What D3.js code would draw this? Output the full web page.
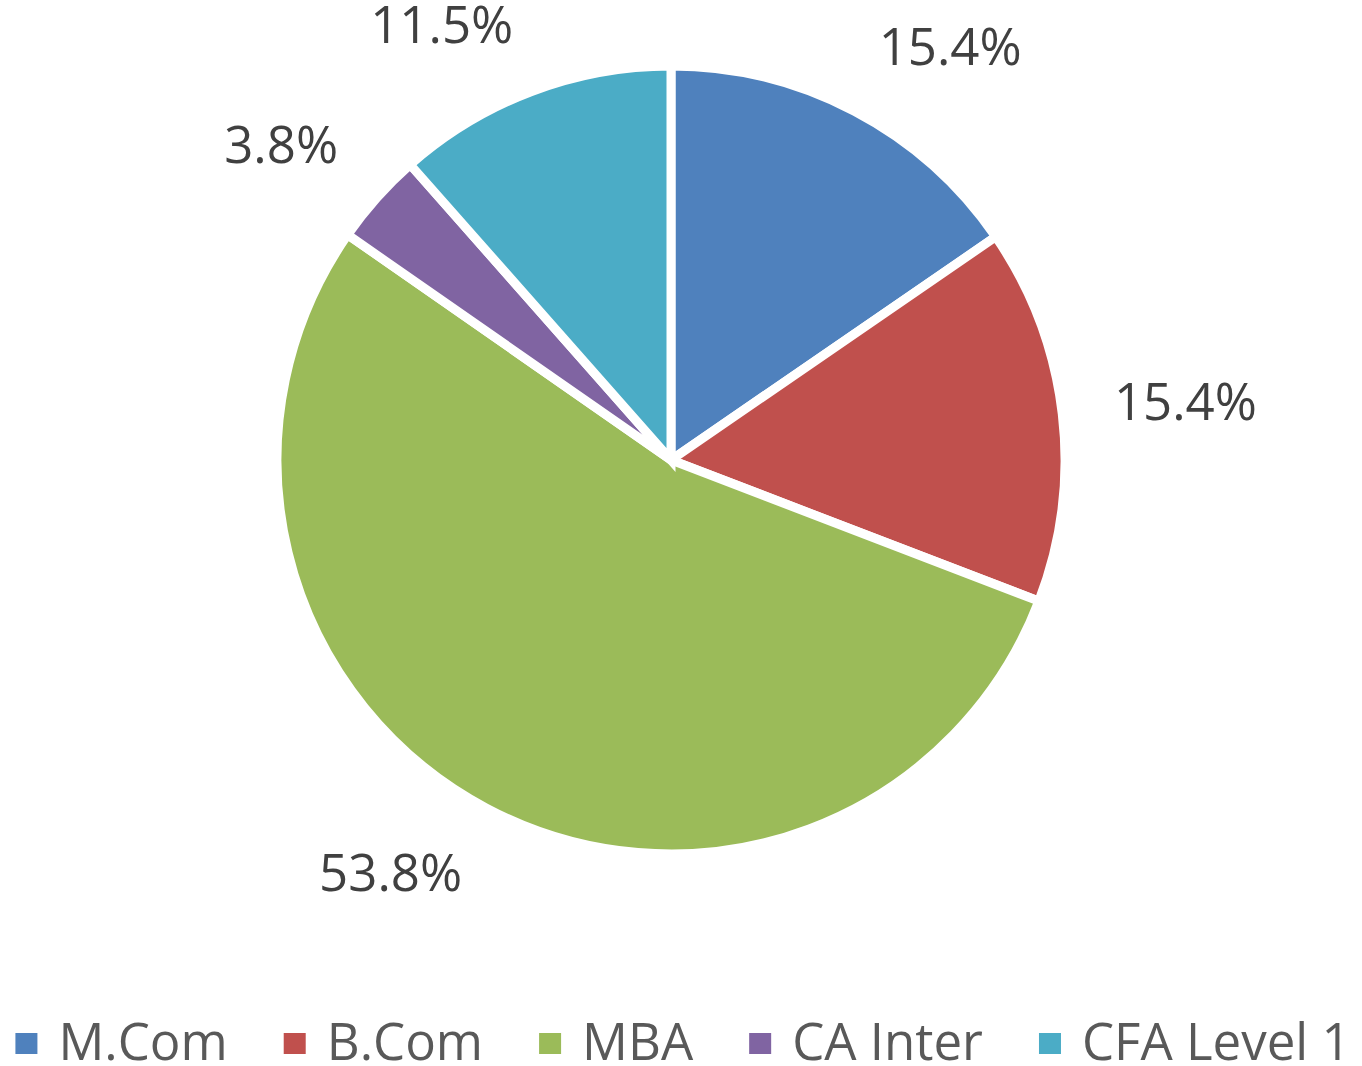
<!DOCTYPE html>
<html>
<head>
<meta charset="utf-8">
<script src="https://cdn.jsdelivr.net/npm/d3@7"></script>
<style>
  body { margin: 0; background: #fff; }
  text { font-family: "Open Sans", "Noto Sans", sans-serif; }
</style>
</head>
<body>
<div id="chart"></div>
<script>
// data
var categories = ["M.Com", "B.Com", "MBA", "CA Inter", "CFA Level 1"];
var shares = [15.4, 15.4, 53.8, 3.8, 11.5];
var shareLabels = ["15.4%", "15.4%", "53.8%", "3.8%", "11.5%"];
var colours = ["#4F81BD", "#C0504D", "#9BBB59", "#8064A2", "#4BACC6"];

var width = 1362, height = 1066;
var cx = 671, cy = 460, radius = 394;

var svg = d3.select("#chart")
  .append("svg")
  .attr("width", width)
  .attr("height", height);

var data = categories.map(function(c, i) {
  return {name: c, value: shares[i], label: shareLabels[i], colour: colours[i]};
});

var pie = d3.pie()
  .sort(null)
  .value(function(d) { return d.value; });

var arc = d3.arc()
  .innerRadius(0)
  .outerRadius(radius);

var arcs = pie(data);

var g = svg.append("g")
  .attr("transform", "translate(" + cx + "," + cy + ")");

g.selectAll("path")
  .data(arcs)
  .enter()
  .append("path")
  .attr("d", arc)
  .attr("fill", function(d) { return d.data.colour; })
  .attr("stroke", "#fff")
  .attr("stroke-width", 9)
  .attr("stroke-linejoin", "miter");

// labels: the box corner nearest the pie sits on a circle just outside it
var labelRadius = 446, capH = 37;
var clamp = function(v) { return Math.max(-1, Math.min(1, v)); };

g.selectAll(".lbl")
  .data(arcs)
  .enter()
  .append("text")
  .attr("class", "lbl")
  .attr("font-size", 51)
  .attr("fill", "#404040")
  .attr("text-anchor", "middle")
  .text(function(d) { return d.data.label; })
  .each(function(d) {
    var a = (d.startAngle + d.endAngle) / 2;
    var s = Math.sin(a), c = Math.cos(a);
    var w = this.getComputedTextLength();
    var qx = labelRadius * s, qy = -labelRadius * c;
    var x = qx + clamp(s * 3) * w / 2;
    var y = qy - clamp(c * 3) * capH / 2;
    d3.select(this).attr("x", x).attr("y", y + capH / 2);
  });

// legend
var legend = svg.append("g");
var items = legend.selectAll("g")
  .data(data)
  .enter()
  .append("g");

items.append("rect")
  .attr("y", 1033)
  .attr("width", 22)
  .attr("height", 21)
  .attr("fill", function(d) { return d.colour; });

items.append("text")
  .attr("x", 43)
  .attr("y", 1060)
  .attr("font-size", 51)
  .attr("fill", "#595959")
  .text(function(d) { return d.name; });

var xPos = 0, gap = 56;
items.each(function() {
  var w = d3.select(this).select("text").node().getComputedTextLength();
  d3.select(this).attr("transform", "translate(" + xPos + ",0)");
  xPos += 43 + w + gap;
});
var total = xPos - gap;
legend.attr("transform", "translate(" + (683 - total / 2) + ",0)");
</script>
</body>
</html>
